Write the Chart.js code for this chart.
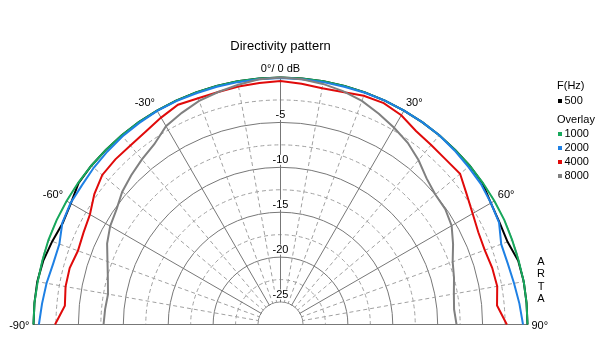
<!DOCTYPE html>
<html>
<head>
<meta charset="utf-8">
<script src="https://cdn.jsdelivr.net/npm/chart.js@4.4.1/dist/chart.umd.min.js"></script>
<style>
  html, body { margin: 0; padding: 0; background: #fff; overflow: hidden; }
  canvas { display: block; }
</style>
</head>
<body>
<canvas id="directivityChart" width="614" height="362"></canvas>
<script>
// angles in degrees, 0 = on axis, negative = left side
const angles = [-90, -85, -80, -75, -70, -65, -60, -55, -50, -45, -40, -35, -30, -25, -20, -15, -10, -5,
  0, 5, 10, 15, 20, 25, 30, 35, 40, 45, 50, 55, 60, 65, 70, 75, 80, 85, 90];

const frequencies = ['500', '1000', '2000', '4000', '8000'];

// levels in dB
const level500 = [0, 0, 0, -0.15, -0.45, -0.75, -0.55, -0.05, 0, 0, 0, 0, 0, 0, 0, 0, 0, 0,
  0, 0, 0, 0, 0, 0, 0, 0, 0, 0, 0, -0.05, -0.45, -0.6, -0.6, -0.1, 0, 0, 0];
const level1000 = [0, 0, -0.05, -0.05, 0, 0, 0, 0, 0, 0, 0, 0, 0, 0, 0, 0, 0, 0,
  0, 0, 0, 0, 0, 0, 0, 0, 0, 0, 0, 0, 0, 0, -0.05, -0.05, 0, 0, 0];
const level2000 = [-0.6, -0.85, -1.05, -1.3, -1.3, -0.7, -0.5, -0.5, -0.35, -0.25, -0.15, -0.1, -0.05, -0.05, -0.1, -0.1, -0.1, -0.1,
  -0.05, -0.1, -0.1, -0.1, -0.05, 0, 0, 0, 0, -0.1, -0.2, -0.25, -0.45, -0.65, -1.35, -1.3, -1.1, -0.8, -0.5];
const level4000 = [-2.4, -3.4, -3.2, -3.2, -3.5, -3.3, -3.0, -2.2, -1.6, -1.5, -1.5, -1.3, -0.9, -0.5, -0.7, -0.7, -0.6, -0.5,
  -0.4, -0.6, -0.8, -0.7, -0.4, -0.3, -0.6, -1.2, -1.4, -1.5, -1.4, -2.2, -2.8, -3.2, -3.3, -3.1, -3.0, -3.3, -2.3];
const level8000 = [-7.8, -7.9, -8.0, -7.6, -7.0, -6.2, -5.6, -5.2, -4.5, -4.0, -3.5, -3.0, -2.0, -1.5, -1.0, -0.7, -0.4, -0.1,
  0, -0.1, -0.3, -0.6, -1.0, -1.6, -2.2, -2.8, -3.6, -4.5, -5.0, -5.1, -5.5, -6.3, -7.1, -7.5, -7.9, -8.1, -7.9];

const seriesColors = ['#000000', '#17a85c', '#1e80e4', '#e00a0a', '#808080'];

const ringLabels = [-5, -10, -15, -20, -25];
const angleLabels = [-90, -60, -30, 0, 30, 60, 90];

const font = '"Liberation Sans", Arial, sans-serif';
const solidGrid = '#777777';
const dashGrid = '#a0a0a0';

// radar needs a full turn of labels, 5 degree steps, the lower half stays empty
const fullTurn = [];
for (let a = 0; a < 360; a += 5) fullTurn.push(a);
const toDeg = a => (a > 180 ? a - 360 : a);

function toTurn(values) {
  return fullTurn.map(a => {
    const i = angles.indexOf(toDeg(a));
    return i === -1 ? null : values[i];
  });
}

const levels = [level500, level1000, level2000, level4000, level8000];
const drawOrder = [4, 3, 2, 1, 0]; // gray on top, black underneath

const datasets = frequencies.map((f, k) => ({
  label: f,
  data: toTurn(levels[k]),
  borderColor: seriesColors[k],
  backgroundColor: seriesColors[k],
  borderWidth: 2,
  pointRadius: 0,
  fill: false,
  tension: 0,
  order: drawOrder[k]
}));

// keep the grid to the upper half, open a hole in the middle
const halfPlot = {
  id: 'halfPlot',
  beforeDraw(chart) {
    const ctx = chart.ctx;
    const s = chart.scales.r;
    ctx.save();
    ctx.beginPath();
    ctx.rect(0, 0, chart.width, s.yCenter + 0.5);
    ctx.clip();
  },
  beforeDatasetsDraw(chart) {
    const ctx = chart.ctx;
    const s = chart.scales.r;
    ctx.restore();
    const r = s.getDistanceFromCenterForValue(-25);
    ctx.save();
    ctx.fillStyle = '#fff';
    ctx.beginPath();
    ctx.arc(s.xCenter, s.yCenter, r - 0.5, Math.PI, 2 * Math.PI);
    ctx.closePath();
    ctx.fill();
    ctx.strokeStyle = solidGrid;
    ctx.lineWidth = 1;
    ctx.beginPath();
    ctx.moveTo(s.xCenter - s.drawingArea, s.yCenter);
    ctx.lineTo(s.xCenter + s.drawingArea, s.yCenter);
    ctx.stroke();
    ctx.restore();
  },
  afterDraw(chart) {
    const ctx = chart.ctx;
    const s = chart.scales.r;
    ctx.save();
    ctx.fillStyle = '#000';

    // ring values along the 0 degree axis
    ctx.font = '11px ' + font;
    ctx.textAlign = 'center';
    ctx.textBaseline = 'middle';
    ringLabels.forEach(v => {
      const y = s.yCenter - s.getDistanceFromCenterForValue(v) - 7.5;
      const txt = String(v);
      const w = ctx.measureText(txt).width;
      ctx.fillStyle = '#fff';
      ctx.fillRect(s.xCenter - w / 2 - 1, y - 5, w + 2, 10);
      ctx.fillStyle = '#000';
      ctx.fillText(txt, s.xCenter, y + 0.5);
    });

    // angle labels just outside the rim
    angleLabels.forEach(a => {
      const idx = fullTurn.indexOf(a < 0 ? a + 360 : a);
      const p = s.getPointPosition(idx, s.drawingArea + 4);
      let txt = a + '\u00b0';
      if (a === 0) {
        txt = '0\u00b0/ 0 dB';
        ctx.textAlign = 'center';
        ctx.textBaseline = 'bottom';
      } else if (Math.abs(a) === 90) {
        ctx.textAlign = a > 0 ? 'left' : 'right';
        ctx.textBaseline = 'middle';
      } else {
        ctx.textAlign = a > 0 ? 'left' : 'right';
        ctx.textBaseline = 'bottom';
      }
      ctx.fillText(txt, p.x, p.y + 1);
    });

    // title
    ctx.font = '13px ' + font;
    ctx.textAlign = 'center';
    ctx.textBaseline = 'middle';
    ctx.fillText('Directivity pattern', s.xCenter, 46.5);

    // legend
    ctx.font = '11px ' + font;
    ctx.textAlign = 'left';
    ctx.fillText('F(Hz)', 557, 85.5);
    ctx.fillText('Overlay', 557, 120);
    chart.data.datasets.forEach((ds, k) => {
      const y = k === 0 ? 101 : 133.5 + (k - 1) * 14.3;
      ctx.fillStyle = ds.borderColor;
      ctx.fillRect(558, Math.round(y) - 2, 4, 4);
      ctx.fillStyle = '#000';
      ctx.fillText(ds.label, 564.5, y);
    });

    // program tag
    ctx.textAlign = 'center';
    ['A', 'R', 'T', 'A'].forEach((ch, i) => {
      ctx.fillText(ch, 541, 262 + i * 12.4);
    });
    ctx.restore();
  }
};

const ctx = document.getElementById('directivityChart').getContext('2d');

new Chart(ctx, {
  type: 'radar',
  data: {
    labels: fullTurn.map(a => toDeg(a) + '\u00b0'),
    datasets: datasets
  },
  options: {
    responsive: false,
    animation: false,
    devicePixelRatio: 1,
    spanGaps: false,
    scales: {
      r: {
        min: -27.5,
        max: 0,
        startAngle: 0,
        ticks: { display: false, stepSize: 2.5 },
        pointLabels: { display: false },
        grid: {
          circular: true,
          lineWidth: 1,
          color: c => {
            const v = c.tick.value;
            if (v <= -27.5) return 'rgba(0,0,0,0)';
            return Math.abs(v % 5) < 0.01 ? solidGrid : dashGrid;
          }
        },
        border: {
          dash: c => (Math.abs(c.tick.value % 5) < 0.01 ? [] : [4, 3])
        },
        angleLines: {
          lineWidth: 1,
          color: c => {
            const a = toDeg(fullTurn[c.index]);
            if (Math.abs(a) > 90 || a % 10 !== 0) return 'rgba(0,0,0,0)';
            return a % 30 === 0 ? solidGrid : dashGrid;
          },
          borderDash: c => {
            const a = toDeg(fullTurn[c.index]);
            return a % 30 === 0 ? [] : [4, 3];
          }
        },
        afterFit: scale => {
          scale.xCenter = 280.5;
          scale.yCenter = 324.5;
          scale.drawingArea = 247;
        }
      }
    },
    plugins: {
      legend: { display: false },
      tooltip: { enabled: false }
    }
  },
  plugins: [halfPlot]
});
</script>
</body>
</html>
